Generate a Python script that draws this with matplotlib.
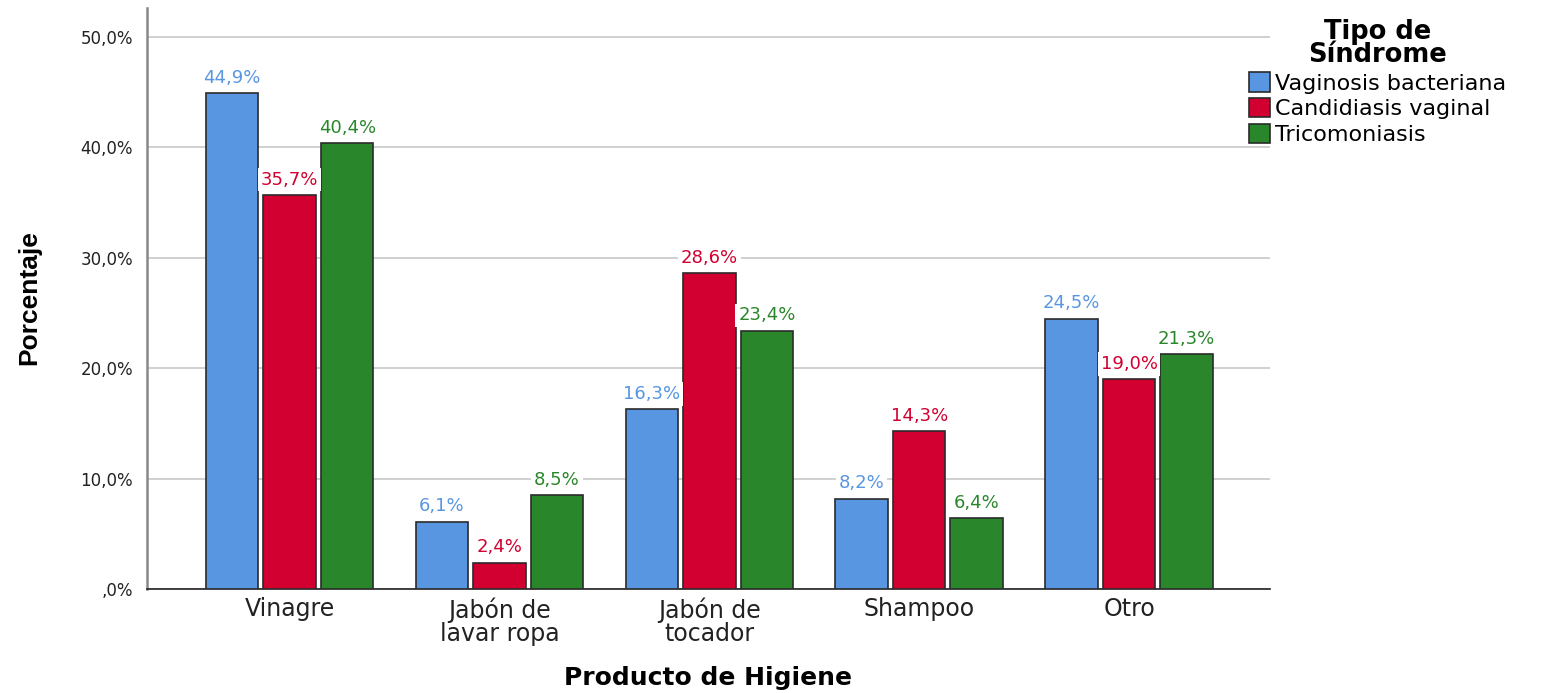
import numpy as np
import matplotlib.pyplot as plt
from matplotlib.patches import Patch

productos = ['Vinagre', 'Jabón de\nlavar ropa', 'Jabón de\ntocador', 'Shampoo', 'Otro']
sindromes = ['Vaginosis bacteriana', 'Candidiasis vaginal', 'Tricomoniasis']
vaginosis = [44.9, 6.1, 16.3, 8.2, 24.5]
candidiasis = [35.7, 2.4, 28.6, 14.3, 19.0]
tricomoniasis = [40.4, 8.5, 23.4, 6.4, 21.3]
yticks = [0, 10, 20, 30, 40, 50]
ytick_labels = [',0%', '10,0%', '20,0%', '30,0%', '40,0%', '50,0%']

colores = ['#5896E2', '#D20030', '#2A862A']
series = [vaginosis, candidiasis, tricomoniasis]


def fmt(v):
    return ('%.1f%%' % v).replace('.', ',')


fig = plt.figure(figsize=(15.55, 6.93), dpi=100)
ax = fig.add_axes([0.0945, 0.150, 0.722, 0.838])

x = np.arange(len(productos))
width = 0.25
step = 0.274
for i, (vals, col) in enumerate(zip(series, colores)):
    pos = x + (i - 1) * step
    ax.bar(pos, vals, width, color=col, edgecolor='#2b2b2b', linewidth=1.2, zorder=3)
    for p, v in zip(pos, vals):
        ax.annotate(fmt(v), (p, v), xytext=(0, 11), textcoords='offset points',
                    ha='center', va='center', color=col, fontsize=13,
                    bbox=dict(boxstyle='square,pad=0.15', fc='white', ec='none'),
                    zorder=4)

ax.set_xlim(-0.68, 4.67)
ax.set_ylim(0, 52.6)
ax.set_yticks(yticks)
ax.set_yticklabels(ytick_labels, fontsize=12, color='#222222')
ax.set_xticks(x)
ax.set_xticklabels(productos, fontsize=17, color='#222222', linespacing=0.95)
ax.tick_params(axis='x', length=0, pad=6)
ax.tick_params(axis='y', length=0, pad=10)
ax.grid(axis='y', color='#c8c8c8', linewidth=1.2, zorder=0)
for s in ['top', 'right']:
    ax.spines[s].set_visible(False)
ax.spines['left'].set_color('#888888')
ax.spines['left'].set_linewidth(1.8)
ax.spines['bottom'].set_color('#222222')
ax.spines['bottom'].set_linewidth(1.2)

fig.text(0.455, 0.022, 'Producto de Higiene', fontsize=18, fontweight='bold',
         ha='center', va='center')
fig.text(0.019, 0.57, 'Porcentaje', rotation=90, fontsize=19, fontweight='bold',
         ha='center', va='center', family=['Liberation Sans Narrow', 'Liberation Sans'])

handles = [Patch(facecolor=c, edgecolor='#2b2b2b', linewidth=1.2) for c in colores]
leg = fig.legend(handles, sindromes, loc='upper left', bbox_to_anchor=(0.793, 0.995),
                 frameon=False, fontsize=16, title='Tipo de\nSíndrome',
                 handlelength=0.95, handleheight=0.95, handletextpad=0.25,
                 labelspacing=0.2, borderpad=0.2)
leg.get_title().set_fontweight('bold')
leg.get_title().set_fontsize(18.5)
leg.get_title().set_linespacing(0.85)
leg.get_title().set_multialignment('center')
leg._legend_box.align = 'center'

fig.savefig('out.png', dpi=100)
